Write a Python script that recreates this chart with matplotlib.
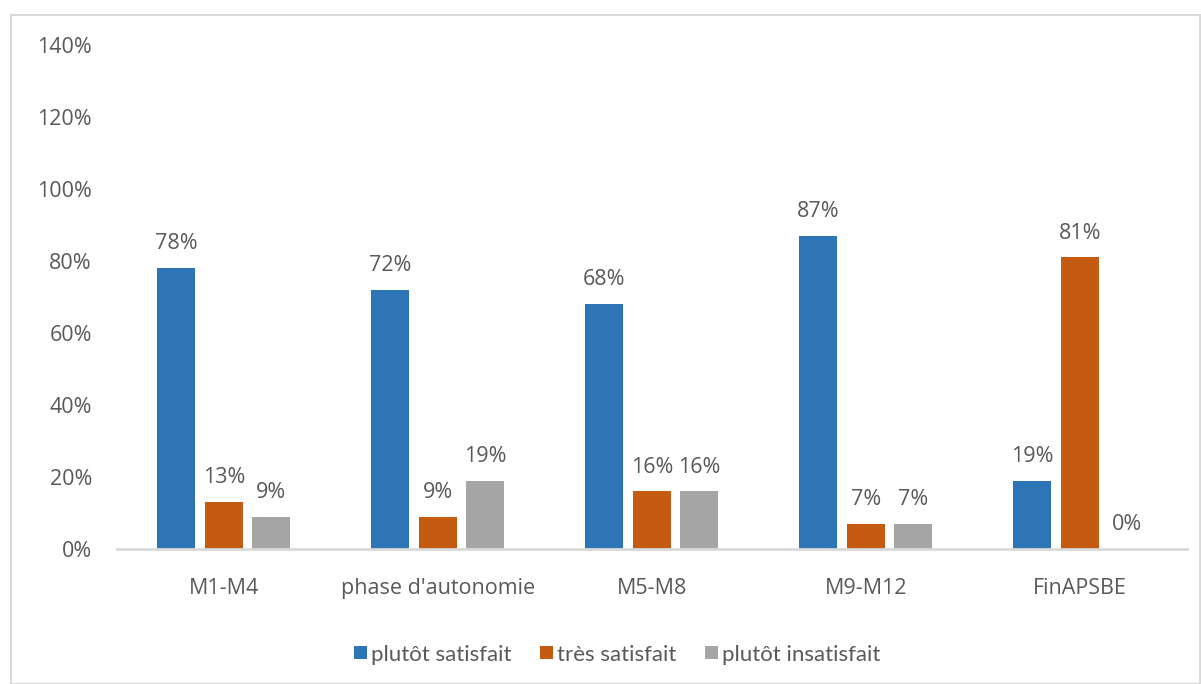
"""Satisfaction par phase : diagramme en barres groupées."""

import matplotlib

matplotlib.use("Agg")
import matplotlib.pyplot as plt
import numpy as np
from matplotlib.patches import Rectangle


CATEGORIES = ["M1-M4", "phase d'autonomie", "M5-M8", "M9-M12", "FinAPSBE"]
SERIES_NAMES = ["plutôt satisfait", "très satisfait", "plutôt insatisfait"]
PLUTOT_SATISFAIT = [0.78, 0.72, 0.68, 0.87, 0.19]
TRES_SATISFAIT = [0.13, 0.09, 0.16, 0.07, 0.81]
PLUTOT_INSATISFAIT = [0.09, 0.19, 0.16, 0.07, 0.00]
Y_TICKS = [0.0, 0.2, 0.4, 0.6, 0.8, 1.0, 1.2, 1.4]

COLORS = ["#2E75B6", "#C55A11", "#A5A5A5"]
TEXT_COLOR = "#595959"
FONT = ["Open Sans", "DejaVu Sans"]


def main() -> None:
    fig = plt.figure(figsize=(12.01, 6.84), dpi=100)
    ax = fig.add_axes([0.0974, 0.1974, 0.8906, 0.7366])

    # cadre gris clair autour du graphique
    fig.patches.append(
        Rectangle((0.009, 0.0), 0.99, 0.978, transform=fig.transFigure,
                  fill=False, edgecolor="#D9D9D9", linewidth=1.5)
    )

    x = np.arange(len(CATEGORIES))
    step = 0.222
    width = 0.178
    all_series = [PLUTOT_SATISFAIT, TRES_SATISFAIT, PLUTOT_INSATISFAIT]
    for i, (name, values) in enumerate(zip(SERIES_NAMES, all_series)):
        pos = x + (i - 1) * step
        ax.bar(pos, values, width=width, color=COLORS[i], label=name, zorder=2)
        for px, v in zip(pos, values):
            ax.annotate(f"{round(v * 100):d}%", (px, v), xytext=(0, 10),
                        textcoords="offset points", ha="center", va="bottom",
                        fontsize=15.5, color=TEXT_COLOR, family=FONT)

    ax.set_xlim(-0.5, len(CATEGORIES) - 0.5)
    ax.set_ylim(0, 1.4)
    ax.set_yticks(Y_TICKS)
    ax.set_yticklabels([f"{round(t * 100):d}%" for t in Y_TICKS])
    ax.set_xticks(x)
    ax.set_xticklabels(CATEGORIES)
    ax.tick_params(axis="both", length=0, labelsize=15.5, colors=TEXT_COLOR)
    ax.tick_params(axis="y", pad=18)
    ax.tick_params(axis="x", pad=21)
    for label in ax.get_xticklabels() + ax.get_yticklabels():
        label.set_family(FONT)

    for side in ["top", "right", "left"]:
        ax.spines[side].set_visible(False)
    ax.spines["bottom"].set_color("#D9D9D9")
    ax.spines["bottom"].set_linewidth(2)

    leg = fig.legend(loc="center", bbox_to_anchor=(0.514, 0.043), ncol=3,
                     frameon=False, handlelength=0.55, handleheight=0.55,
                     handletextpad=0.2, columnspacing=1.3,
                     prop={"family": ["Lato", "DejaVu Sans"], "size": 16})
    for text in leg.get_texts():
        text.set_color(TEXT_COLOR)

    fig.savefig("out.png", dpi=100)
    plt.close(fig)


if __name__ == "__main__":
    main()
